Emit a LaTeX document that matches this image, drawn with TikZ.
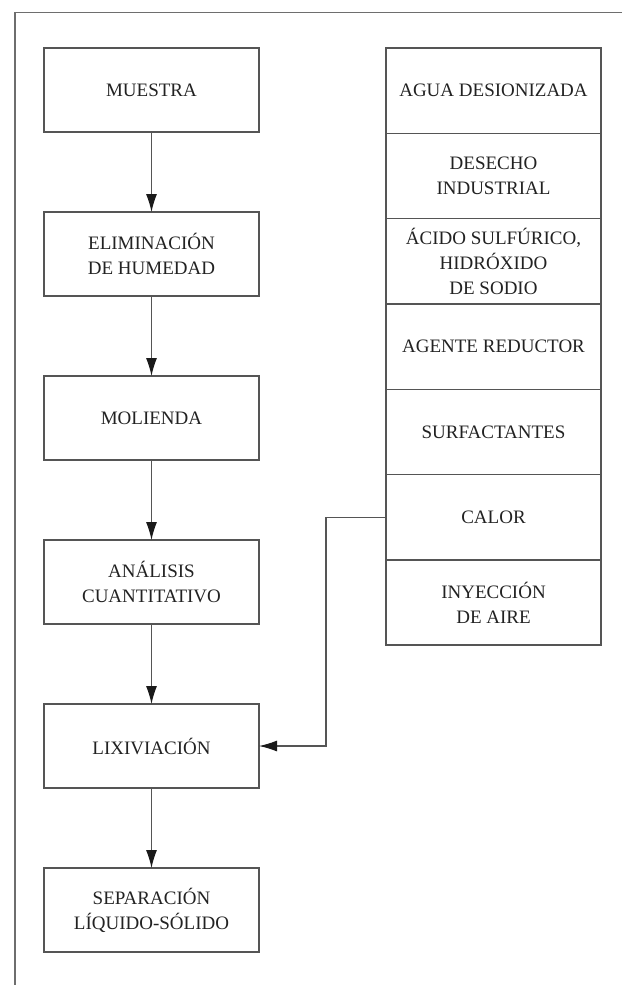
\documentclass[tikz,border=0pt]{standalone}
\usepackage{fontspec}
\setmainfont{Liberation Serif}
\usetikzlibrary{arrows.meta}
\definecolor{linecol}{HTML}{555555}
\definecolor{txtcol}{HTML}{222222}
\definecolor{framecol}{HTML}{6E6E6E}
\definecolor{tipcol}{HTML}{1A1A1A}
\begin{document}
\begin{tikzpicture}[x=1pt,y=-1pt,
  every node/.style={font=\fontsize{19}{25}\selectfont, text=txtcol},
  procbox/.style={draw=linecol, line width=1.2pt, minimum width=215pt, minimum height=84pt, inner sep=0pt, outer sep=0pt, align=center},
  inbox/.style={draw=linecol, line width=1.4pt, minimum width=215pt, minimum height=85.3pt, inner sep=0pt, outer sep=0pt, align=center},
  flow/.style={draw=linecol, line width=1.1pt, -{Latex[length=18pt,width=11pt,color=tipcol]}}
]
\useasboundingbox (0,0) rectangle (622,985);
% frame
\draw[framecol, line width=1.7pt] (622,12.5) -- (15,12.5) -- (15,985);
% process column
\node[procbox] (mue) at (151.5,90) {MUESTRA};
\node[procbox] (eli) at (151.5,254) {ELIMINACIÓN\\DE HUMEDAD};
\node[procbox] (mol) at (151.5,418) {MOLIENDA};
\node[procbox] (ana) at (151.5,582) {ANÁLISIS\\CUANTITATIVO};
\node[procbox] (lix) at (151.5,746) {LIXIVIACIÓN};
\node[procbox] (sep) at (151.5,910) {SEPARACIÓN\\LÍQUIDO-SÓLIDO};
% input column
\node[inbox] (agu) at (493.5,90.65) {AGUA DESIONIZADA};
\node[inbox] (des) at (493.5,175.95) {DESECHO\\INDUSTRIAL};
\node[inbox] (aci) at (493.5,261.25) {ÁCIDO SULFÚRICO,\\HIDRÓXIDO\\DE SODIO};
\node[inbox] (age) at (493.5,346.55) {AGENTE REDUCTOR};
\node[inbox] (sur) at (493.5,431.85) {SURFACTANTES};
\node[inbox] (cal) at (493.5,517.15) {CALOR};
\node[inbox] (iny) at (493.5,602.45) {INYECCIÓN\\DE AIRE};
% arrows
\draw[flow] (mue) -- (eli);
\draw[flow] (eli) -- (mol);
\draw[flow] (mol) -- (ana);
\draw[flow] (ana) -- (lix);
\draw[flow] (lix) -- (sep);
\coordinate (bend) at (326,746);
\draw[flow] (cal.west) -| (bend) -- (lix.east);
\end{tikzpicture}
\end{document}
